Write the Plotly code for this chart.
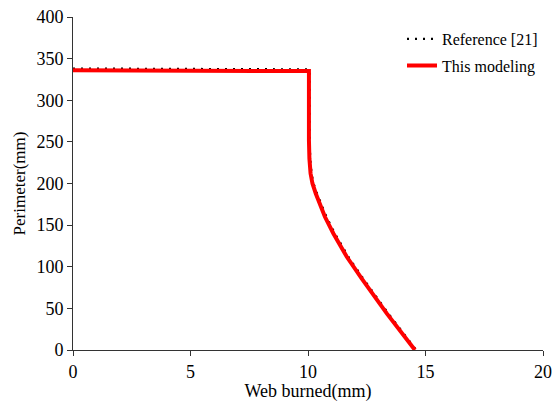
import plotly.graph_objects as go

# Data
model_x = [0, 10.04, 10.04, 10.045, 10.06, 10.11, 10.19, 10.33, 10.54, 10.72, 11.08, 11.65, 12.28, 13.35, 14.55]
model_y = [336, 335, 252, 240, 230, 212, 200, 188, 172, 160, 140, 112, 86, 44, 0]

ref_x = [0, 10.07, 10.07, 10.075, 10.09, 10.15, 10.23, 10.38, 10.59, 10.78, 11.14, 11.71, 12.34, 13.41, 14.6]
ref_y = [338, 337, 252, 240, 230, 212, 200, 188, 172, 160, 140, 112, 86, 44, 0]

x_ticks = [0, 5, 10, 15, 20]
y_ticks = [0, 50, 100, 150, 200, 250, 300, 350, 400]

FONT = "'Liberation Serif', 'Times New Roman', serif"

fig = go.Figure()
fig.add_trace(go.Scatter(
    x=ref_x, y=ref_y, mode="lines", name="Reference [21]",
    line=dict(color="black", width=2.4, dash="2px,6px"),
    legend="legend",
))
fig.add_trace(go.Scatter(
    x=model_x, y=model_y, mode="lines", name="This modeling",
    line=dict(color="#ff0000", width=4),
    legend="legend2",
))

axis_common = dict(
    showgrid=False, zeroline=False, showline=True, linecolor="#333",
    linewidth=1, ticks="outside", ticklen=5, tickcolor="#333",
    automargin=False,
    tickfont=dict(family=FONT, size=18, color="black"),
)

fig.update_layout(
    width=553, height=402,
    margin=dict(l=73, r=10, t=17, b=52, autoexpand=False),
    paper_bgcolor="white", plot_bgcolor="white",
    font=dict(family=FONT, size=16, color="black"),
    xaxis=dict(range=[0, 20], tickvals=x_ticks,
               title=dict(text="Web burned(mm)", standoff=2,
                          font=dict(family=FONT, size=18, color="black")),
               **axis_common),
    yaxis=dict(range=[0, 400], tickvals=y_ticks,
               title=dict(text="Perimeter(mm)", standoff=6,
                          font=dict(family=FONT, size=17, color="black")),
               **axis_common),
    legend=dict(x=0.70, y=0.985, xanchor="left", yanchor="top", bgcolor="rgba(0,0,0,0)",
                font=dict(family=FONT, size=16, color="black"), itemwidth=30),
    legend2=dict(x=0.70, y=0.905, xanchor="left", yanchor="top", bgcolor="rgba(0,0,0,0)",
                 font=dict(family=FONT, size=16, color="black"), itemwidth=30),
    showlegend=True,
)

fig.write_html("out.html")
